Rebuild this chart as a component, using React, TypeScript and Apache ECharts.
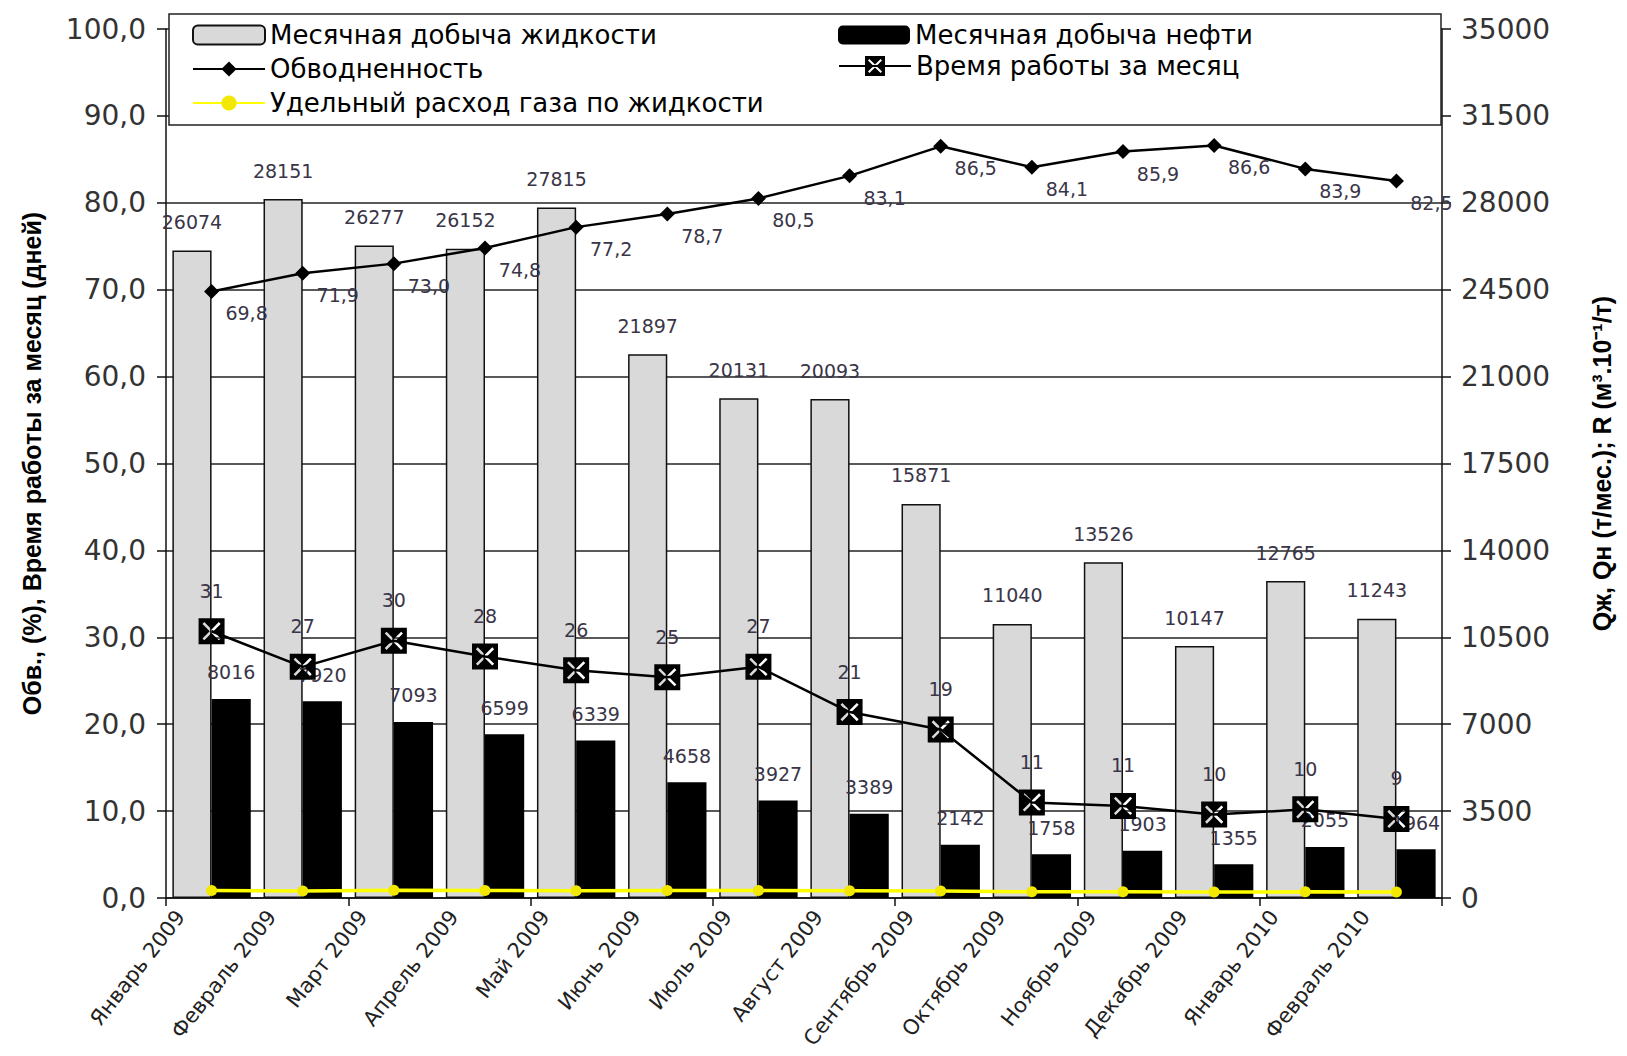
import React, { useEffect, useRef } from "react";
import * as echarts from "echarts";

const categories = [
  "Январь 2009", "Февраль 2009", "Март 2009", "Апрель 2009", "Май 2009", "Июнь 2009",
  "Июль 2009", "Август 2009", "Сентябрь 2009", "Октябрь 2009", "Ноябрь 2009",
  "Декабрь 2009", "Январь 2010", "Февраль 2010",
];
const liquid = [26074, 28151, 26277, 26152, 27815, 21897, 20131, 20093, 15871, 11040, 13526, 10147, 12765, 11243];
const oil = [8016, 7920, 7093, 6599, 6339, 4658, 3927, 3389, 2142, 1758, 1903, 1355, 2055, 1964];
const waterCut = [69.8, 71.9, 73.0, 74.8, 77.2, 78.7, 80.5, 83.1, 86.5, 84.1, 85.9, 86.6, 83.9, 82.5];
const workDays = [30.7, 26.6, 29.6, 27.8, 26.2, 25.4, 26.6, 21.4, 19.4, 11.0, 10.6, 9.6, 10.2, 9.1];
const gasRate = [300, 280, 310, 300, 290, 300, 300, 290, 280, 250, 250, 240, 250, 240];

const seriesNames = [
  "Месячная добыча жидкости",
  "Месячная добыча нефти",
  "Обводненность",
  "Время работы за месяц",
  "Удельный расход газа по жидкости",
];
const leftAxisName = "Обв., (%), Время работы за месяц (дней)";
const rightAxisName = "Qж, Qн (т/мес.); R (м³.10⁻¹/т)";

export default function App() {
  const ref = useRef<HTMLDivElement>(null);
  useEffect(() => {
    const chart = echarts.init(ref.current!, null, { renderer: "svg" });
    const font = "'DejaVu Sans', sans-serif";
    const titleFont = "'Liberation Sans', Arial, sans-serif";
    const labelColor = "#3a3548";
    const xBox =
      "path://M0 0H20V20H0Z M8.6 10L3 15.6L4.4 17L10 11.4L15.6 17L17 15.6L11.4 10L17 4.4L15.6 3L10 8.6L4.4 3L3 4.4Z";
    const legendBase: any = {
      orient: "horizontal",
      padding: 0,
      itemWidth: 72,
      itemHeight: 19,
      z: 20,
      selectedMode: false,
      textStyle: { fontSize: 26, color: "#000", fontFamily: font },
      itemGap: 10,
    };
    const lineAxis = { color: "#111", width: 1.5 };
    const gridL = 166, gridR = 185, gridT = 29, gridB = 158, labelShift = 31;
    chart.setOption({
      animation: false,
      backgroundColor: "#fff",
      graphic: [
        {
          type: "rect",
          z: 10,
          shape: { x: 169, y: 14, width: 1272, height: 111 },
          style: { fill: "#fff", stroke: "#222", lineWidth: 1.5 },
        },
      ],
      legend: [
        { ...legendBase, left: 192, top: 22, data: [seriesNames[0]] },
        { ...legendBase, left: 838, top: 22, data: [seriesNames[1]] },
        { ...legendBase, left: 192, top: 56, data: [seriesNames[2]] },
        { ...legendBase, left: 838, top: 53, itemHeight: 25, data: [seriesNames[3]] },
        { ...legendBase, left: 192, top: 90, data: [seriesNames[4]] },
      ],
      grid: [
        { left: gridL, right: gridR, top: gridT, bottom: gridB, containLabel: false, outerBoundsMode: "none" },
        {
          left: gridL - labelShift,
          right: gridR + labelShift,
          top: gridT,
          bottom: gridB,
          containLabel: false,
          outerBoundsMode: "none",
        },
      ],
      xAxis: [
        {
          type: "category",
          gridIndex: 0,
          data: categories,
          boundaryGap: true,
          axisLine: { lineStyle: lineAxis },
          axisTick: { show: true, length: 8, lineStyle: lineAxis },
          axisLabel: { show: false },
        },
        {
          type: "category",
          gridIndex: 1,
          data: categories,
          boundaryGap: true,
          axisLine: { show: false },
          axisTick: { show: false },
          axisLabel: {
            interval: 0,
            rotate: 52,
            margin: 15,
            fontSize: 21,
            color: "#222",
            fontFamily: font,
          },
        },
      ],
      yAxis: [
        {
          type: "value",
          gridIndex: 0,
          position: "left",
          min: 0,
          max: 100,
          interval: 10,
          axisLine: { show: true, lineStyle: lineAxis },
          axisTick: { show: true, length: 9, lineStyle: lineAxis },
          axisLabel: {
            margin: 20,
            fontSize: 28,
            color: "#333",
            fontFamily: font,
            formatter: (v: number) => v.toFixed(1).replace(".", ","),
          },
          splitLine: { show: true, lineStyle: { color: "#222", width: 1.5 } },
          name: leftAxisName,
          nameLocation: "middle",
          nameRotate: 90,
          nameGap: 122,
          nameTextStyle: { fontSize: 25, fontWeight: "bold", color: "#000", fontFamily: titleFont },
        },
        {
          type: "value",
          gridIndex: 0,
          position: "right",
          min: 0,
          max: 35000,
          interval: 3500,
          axisLine: { show: true, lineStyle: lineAxis },
          axisTick: { show: true, length: 9, lineStyle: lineAxis },
          axisLabel: {
            margin: 19,
            fontSize: 28,
            color: "#333",
            fontFamily: font,
            formatter: (v: number) => String(v),
          },
          splitLine: { show: false },
          name: rightAxisName,
          nameLocation: "middle",
          nameRotate: 90,
          nameGap: 147,
          nameTextStyle: { fontSize: 25, fontWeight: "bold", color: "#000", fontFamily: titleFont },
        },
        {
          type: "value",
          gridIndex: 1,
          show: false,
          min: 0,
          max: 100,
          splitLine: { show: false },
        },
      ],
      series: [
        {
          name: seriesNames[0],
          type: "bar",
          yAxisIndex: 1,
          data: liquid,
          barGap: "0%",
          barCategoryGap: "14%",
          itemStyle: { color: "#d9d9d9", borderColor: "#111", borderWidth: 1.5 },
          label: {
            show: true,
            position: "top",
            distance: 5,
            offset: [0, -14],
            fontSize: 19,
            color: labelColor,
            fontFamily: font,
          },
        },
        {
          name: seriesNames[1],
          type: "bar",
          yAxisIndex: 1,
          data: oil,
          itemStyle: { color: "#000" },
          label: {
            show: true,
            position: "top",
            distance: 5,
            offset: [0, -12],
            fontSize: 19,
            color: labelColor,
            fontFamily: font,
          },
        },
        {
          name: seriesNames[2],
          type: "line",
          yAxisIndex: 0,
          data: waterCut,
          symbol: "diamond",
          symbolSize: 15,
          z: 5,
          itemStyle: { color: "#000" },
          lineStyle: { color: "#000", width: 2.5 },
          label: {
            show: true,
            position: "bottom",
            distance: 5,
            offset: [35, 0],
            fontSize: 19,
            color: labelColor,
            fontFamily: font,
            formatter: (p: any) => Number(p.value).toFixed(1).replace(".", ","),
          },
        },
        {
          name: seriesNames[3],
          type: "line",
          yAxisIndex: 0,
          data: workDays,
          symbol: xBox,
          symbolSize: 26,
          z: 6,
          itemStyle: { color: "#000" },
          lineStyle: { color: "#000", width: 2.5 },
          label: {
            show: true,
            position: "top",
            distance: 5,
            offset: [0, -13],
            fontSize: 19,
            color: labelColor,
            fontFamily: font,
            formatter: (p: any) => String(Math.round(Number(p.value))),
          },
        },
        {
          name: seriesNames[4],
          type: "line",
          yAxisIndex: 1,
          data: gasRate,
          symbol: "circle",
          symbolSize: 11,
          z: 7,
          itemStyle: { color: "#f2e800" },
          lineStyle: { color: "#ffff00", width: 3.5 },
        },
      ],
    });
    return () => chart.dispose();
  }, []);
  return (
    <div
      ref={ref}
      style={{ position: "fixed", left: 0, top: 0, width: 1627, height: 1056, background: "#fff" }}
    />
  );
}
